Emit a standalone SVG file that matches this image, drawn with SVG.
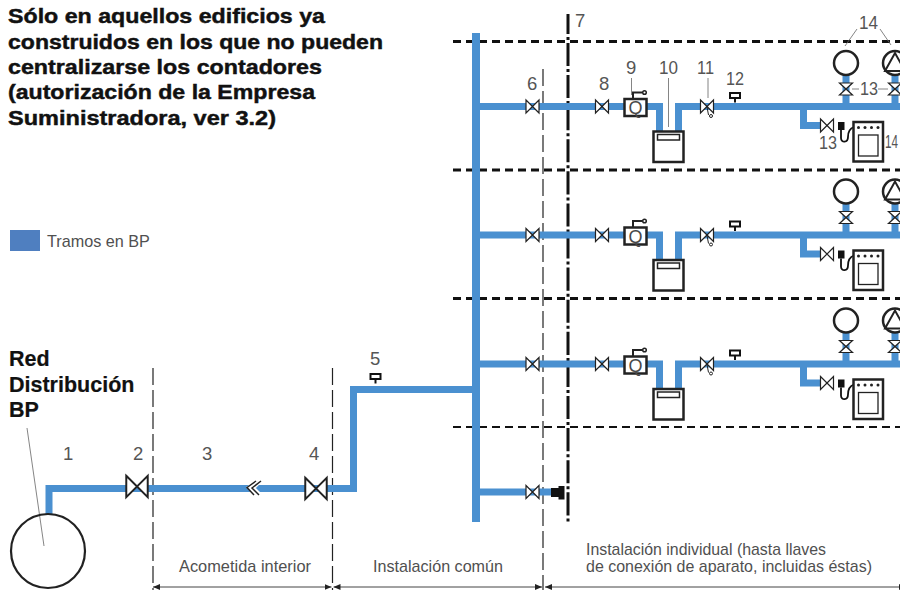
<svg xmlns="http://www.w3.org/2000/svg" width="900" height="592" viewBox="0 0 900 592">
<style>
text{font-family:"Liberation Sans",Arial,sans-serif;fill:#484848}
.h{font-weight:700;fill:#111;font-size:20.5px;stroke:#111;stroke-width:.45}
.r{font-weight:700;fill:#111;font-size:21.5px;stroke:#111;stroke-width:.2}
.n{font-size:18.5px;fill:#555}
.c{font-size:16.1px;fill:#505050}
.p{fill:none;stroke:#4a90d0;stroke-width:7}
.v{fill:#fff;stroke:#222;stroke-width:1.200}
.k{fill:#fff;stroke:#222;stroke-width:2.500}
.b{fill:none;stroke:#222;stroke-width:2}
.f{fill:none;stroke:#111;stroke-width:3;stroke-dasharray:8 5}
.t{fill:none;stroke:#222;stroke-width:1.200;stroke-dasharray:17 5}
.l{fill:none;stroke:#666;stroke-width:.8}
.d{fill:none;stroke:#444;stroke-width:1;marker-start:url(#as);marker-end:url(#ae)}
</style>
<defs>
<marker id="ae" markerWidth="7" markerHeight="6" refX="7" refY="3" orient="auto" markerUnits="userSpaceOnUse"><path d="M0 0L7 3L0 6z" fill="#222"/></marker>
<marker id="as" markerWidth="7" markerHeight="6" refX="0" refY="3" orient="auto" markerUnits="userSpaceOnUse"><path d="M7 0L0 3L7 6z" fill="#222"/></marker>
<path id="valve" d="M-6.500-6.500L6.500 6.500V-6.500L-6.500 6.500z" class="v"/>
<path id="valveV" d="M-6.500-6L6.500-6L-6.500 6H6.500z" class="v"/>
<g id="reg"><rect x="-5" y="-6" width="10" height="5" fill="#fff" stroke="#111" stroke-width="2"/><path d="M0-1V3.500" stroke="#111" stroke-width="2"/></g>
<g id="floor">
<path class="p" d="M476 106.500H647H659.500V131M678.500 131V106.500H900M803.500 106.500V125.500H822M846 106.500V75M895 106.500V75"/>
<use href="#valve" x="532.500" y="106.500"/>
<use href="#valve" x="602" y="106.500"/>
<rect x="624.500" y="99" width="22" height="17" class="k"/>
<text x="635.500" y="114" text-anchor="middle" style="font-size:18px">Q</text>
<path class="b" d="M633 99V92.500H642"/><circle cx="644.500" cy="92.500" r="1.800" fill="#fff" stroke="#222" stroke-width="1.500"/>
<rect x="653.500" y="131.500" width="30" height="30.500" class="k"/>
<rect x="657.500" y="134.500" width="22" height="5.500" class="k" style="stroke-width:1.500"/>
<use href="#valve" x="707" y="106.500"/>
<path d="M707 107L708.500 115" fill="none" stroke="#222"/><circle cx="711" cy="116" r="1.500" fill="#fff" stroke="#222"/>
<use href="#reg" x="735" y="99"/>
<use href="#valve" x="827" y="125.500"/>
<rect x="838" y="122" width="6.500" height="8" fill="#111"/>
<path d="M841 130V138C841 143 848 143 848 137C848 130 851 128 854 127" fill="none" stroke="#111" stroke-width="1.800"/>
<rect x="853.500" y="122" width="29.500" height="39.500" class="k"/>
<rect x="858.500" y="135" width="19.500" height="21" class="b" style="stroke-width:1.300"/>
<g fill="#222"><circle cx="858.500" cy="127.500" r="1.500"/><circle cx="865" cy="127.500" r="1.500"/><circle cx="871.500" cy="127.500" r="1.500"/><circle cx="878" cy="127.500" r="1.500"/></g>
<circle cx="846" cy="63" r="12" class="k"/>
<circle cx="895" cy="63" r="12" class="k"/><path d="M885 71L895 53L905 71z" class="b"/>
<use href="#valveV" x="846" y="89"/>
<use href="#valveV" x="895" y="89"/>
</g>
</defs>
<rect width="900" height="592" fill="#fff"/>

<g id="connectors">
<path class="f" d="M453 41.500H900M453 170H900M453 298.500H900"/>
<path class="f" style="stroke-width:2" d="M453 427H900"/>
<path fill="none" stroke="#111" stroke-width="3" stroke-dasharray="23.100 3 3 3" stroke-dashoffset="3.200" d="M568 14V524"/>
<path class="t" d="M543 69V590M153 368V590M332.500 368V590"/>
<path class="p" style="stroke-width:8" d="M476 33V522"/>
<path class="p" d="M476 389.500H353.500V488.500H49V515M476 492H552"/>
<path class="d" d="M153 587H331.500"/>
<path class="d" d="M333.500 587H542"/>
<path class="d" d="M545 587H906"/>
<path class="l" d="M27 428L44 546"/>
</g>

<g id="floor1"><use href="#floor"/></g>
<g id="floor2"><use href="#floor" y="128.500"/></g>
<g id="floor3"><use href="#floor" y="257.500"/></g>

<g id="bp-network"><circle cx="48" cy="551" r="37" class="b" style="stroke-width:2.200"/></g>
<g id="valve2"><use href="#valve" transform="translate(137 486.500) scale(1.650)"/></g>
<g id="valve4"><use href="#valve" transform="translate(316 488.500) scale(1.650)"/></g>
<g id="fitting3"><path d="M258 481L249 487.500L256 495M260 481L253 488L260 495" fill="none" stroke="#fff" stroke-width="4"/><path d="M256 481L247 487.500L254 495M261 481L252 488L259 495" fill="none" stroke="#222" stroke-width="1.500"/></g>
<g id="reg5"><use href="#reg" x="375.500" y="380"/></g>
<g id="valve-end"><use href="#valve" x="532.500" y="492"/><rect x="551" y="488" width="8" height="9" fill="#111"/><rect x="558.500" y="486" width="6" height="13.500" fill="#111"/></g>

<g id="legend"><rect x="10" y="230" width="30" height="21" fill="#4f7fc0"/><text x="47" y="247" style="font-size:16.200px;fill:#505050">Tramos en BP</text></g>

<g id="labels">
<text class="h" x="8" y="23" textLength="317" lengthAdjust="spacingAndGlyphs">Sólo en aquellos edificios ya</text>
<text class="h" x="8" y="49" textLength="375" lengthAdjust="spacingAndGlyphs">construidos en los que no pueden</text>
<text class="h" x="8" y="74" textLength="314" lengthAdjust="spacingAndGlyphs">centralizarse los contadores</text>
<text class="h" x="8" y="99" textLength="307" lengthAdjust="spacingAndGlyphs">(autorización de la Empresa</text>
<text class="h" x="8" y="125" textLength="268" lengthAdjust="spacingAndGlyphs">Suministradora, ver 3.2)</text>
<text class="r" x="9" y="366">Red</text>
<text class="r" x="9" y="392">Distribución</text>
<text class="r" x="9" y="417">BP</text>
<text class="n" x="63" y="460">1</text>
<text class="n" x="133" y="460">2</text>
<text class="n" x="202" y="460">3</text>
<text class="n" x="309" y="460">4</text>
<text class="n" x="370" y="365">5</text>
<text class="n" x="527" y="90">6</text>
<text class="n" x="575" y="27">7</text>
<text class="n" x="599" y="90">8</text>
<text class="n" x="626" y="74">9</text>
<text class="n" x="659" y="74" textLength="19" lengthAdjust="spacingAndGlyphs">10</text>
<text class="n" x="697" y="74" textLength="17" lengthAdjust="spacingAndGlyphs">11</text>
<text class="n" x="726" y="85" textLength="18" lengthAdjust="spacingAndGlyphs">12</text>
<text class="n" x="819" y="149" textLength="18" lengthAdjust="spacingAndGlyphs">13</text>
<text class="n" x="860" y="95" textLength="18" lengthAdjust="spacingAndGlyphs">13</text>
<text class="n" x="859" y="29" textLength="19" lengthAdjust="spacingAndGlyphs">14</text>
<text class="n" x="885" y="148" textLength="13" lengthAdjust="spacingAndGlyphs">14</text>
</g>
<path class="l" d="M631.500 78V95M668.500 78V127M708 78V98M857 29L845 46M880 29L891 45M852 89H859M878 89H888"/>
<g id="captions">
<text class="c" x="179" y="572" textLength="132" lengthAdjust="spacingAndGlyphs">Acometida interior</text>
<text class="c" x="373" y="572" textLength="130" lengthAdjust="spacingAndGlyphs">Instalación común</text>
<text class="c" x="586" y="555" textLength="240" lengthAdjust="spacingAndGlyphs">Instalación individual (hasta llaves</text>
<text class="c" x="586" y="572" textLength="286" lengthAdjust="spacingAndGlyphs">de conexión de aparato, incluidas éstas)</text>
</g>
</svg>
